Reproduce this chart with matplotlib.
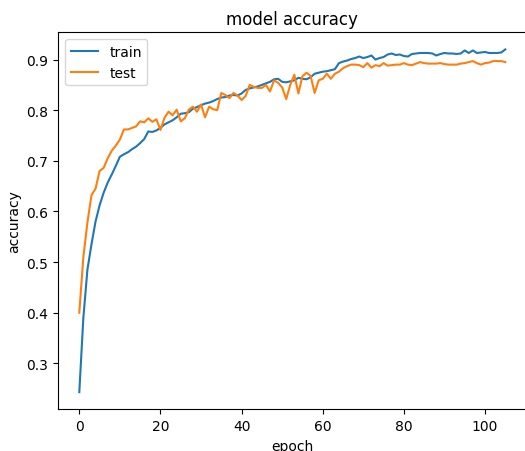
import matplotlib
matplotlib.use("Agg")
import matplotlib.pyplot as plt

# accuracy per epoch
train_acc = [0.243, 0.39, 0.485, 0.535, 0.58, 0.612, 0.637, 0.657, 0.673, 0.69,
             0.708, 0.713, 0.717, 0.723, 0.728, 0.735, 0.743, 0.758, 0.757, 0.76,
             0.765, 0.772, 0.776, 0.78, 0.786, 0.793, 0.794, 0.796, 0.803, 0.806,
             0.81, 0.813, 0.815, 0.818, 0.822, 0.825, 0.826, 0.829, 0.83, 0.829,
             0.833, 0.84, 0.843, 0.845, 0.847, 0.85, 0.853, 0.856, 0.861, 0.862,
             0.856, 0.855, 0.857, 0.859, 0.864, 0.862, 0.861, 0.865, 0.872, 0.874,
             0.876, 0.877, 0.879, 0.881, 0.893, 0.896, 0.898, 0.901, 0.903, 0.906,
             0.903, 0.905, 0.908, 0.900, 0.903, 0.905, 0.910, 0.912, 0.909, 0.910,
             0.907, 0.906, 0.911, 0.912, 0.913, 0.913, 0.913, 0.912, 0.908, 0.911,
             0.913, 0.912, 0.912, 0.911, 0.912, 0.918, 0.913, 0.918, 0.913, 0.914,
             0.915, 0.913, 0.913, 0.913, 0.914, 0.920]
test_acc = [0.40, 0.51, 0.578, 0.632, 0.645, 0.68, 0.686, 0.705, 0.72, 0.73,
            0.742, 0.762, 0.762, 0.765, 0.768, 0.778, 0.776, 0.784, 0.777, 0.782,
            0.761, 0.785, 0.797, 0.79, 0.801, 0.778, 0.784, 0.801, 0.807, 0.797,
            0.811, 0.786, 0.807, 0.802, 0.800, 0.834, 0.830, 0.824, 0.834, 0.829,
            0.820, 0.828, 0.850, 0.846, 0.844, 0.844, 0.850, 0.837, 0.859, 0.854,
            0.845, 0.822, 0.850, 0.870, 0.833, 0.867, 0.874, 0.868, 0.834, 0.859,
            0.862, 0.872, 0.862, 0.872, 0.876, 0.883, 0.887, 0.890, 0.890, 0.889,
            0.885, 0.893, 0.884, 0.889, 0.887, 0.893, 0.888, 0.889, 0.890, 0.890,
            0.893, 0.890, 0.889, 0.892, 0.895, 0.893, 0.892, 0.892, 0.892, 0.893,
            0.891, 0.890, 0.890, 0.890, 0.892, 0.893, 0.895, 0.897, 0.893, 0.890,
            0.893, 0.894, 0.897, 0.897, 0.897, 0.895]

W, H = 525, 452
fig = plt.figure(figsize=(W / 100, H / 100), dpi=100)
# the reference is a crop, right spine sits just off the edge
ax = fig.add_axes([58 / W, (H - 410.3) / H, 468.6 / W, 377 / H])
ax.plot(train_acc)
ax.plot(test_acc)
ax.set_title('model accuracy')
ax.set_ylabel('accuracy')
ax.set_xlabel('epoch')
ax.legend(['train', 'test'], loc='upper left')
fig.savefig('out.png', dpi=100)
